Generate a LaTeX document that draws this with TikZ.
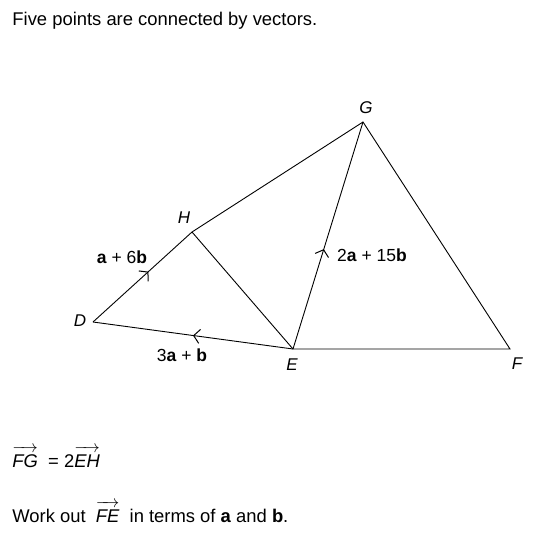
\documentclass[tikz,border=0pt]{standalone}
\usepackage{fontspec}
\setmainfont{Liberation Sans}
\usetikzlibrary{decorations.markings,arrows.meta}

\newcommand{\vecpair}[1]{$\overrightarrow{\raisebox{0pt}[0.86em]{\itshape #1}}$}

\tikzset{
  midarrow/.style={postaction={decorate},
    decoration={markings, mark=at position #1 with {\arrow{Straight Barb[length=6pt,width=14pt,line width=1pt]}}}},
  pointlabel/.style={font=\itshape\fontsize{17}{20}\selectfont, inner sep=0pt},
  veclabel/.style={font=\fontsize{17.5}{20}\selectfont, inner sep=0pt},
  bodytext/.style={font=\fontsize{18.4}{21}\selectfont, inner sep=0pt, anchor=west},
}

\begin{document}
\begin{tikzpicture}[x=1pt, y=-1pt, line width=0.9pt]
		
		\useasboundingbox (0,0) rectangle (539,548);
		
		% Texte
		\node[bodytext] (intro) at (12,21) {Five points are connected by vectors.};
		\node[bodytext] (given) at (12,457) {\vecpair{FG}\ \ = 2\vecpair{EH}};
		\node[bodytext] (task) at (12,512) {Work out\ \ \vecpair{FE}\ \ in terms of \textbf{a} and \textbf{b}.};
		
		% Punkte
		\coordinate (D) at (93,322);
		\coordinate (H) at (192,232);
		\coordinate (E) at (293,349);
		\coordinate (G) at (363,122);
		\coordinate (F) at (510,349);
		
		\node[pointlabel] (Dl) at (80,321) {D};
		\node[pointlabel] (Hl) at (184,218) {H};
		\node[pointlabel] (El) at (292,365) {E};
		\node[pointlabel] (Gl) at (366,108) {G};
		\node[pointlabel] (Fl) at (517,364) {F};
		
		% Strecken
		\draw[midarrow=0.56] (D) -- (H);
		\draw[midarrow=0.5] (E) -- (D);
		\draw[midarrow=0.44] (E) -- (G);
		\draw (H) -- (G) -- (F) -- (E) -- (H);
		
		% Vektoren
		\node[veclabel] (dh) at (122,257) {\textbf{a} + 6\textbf{b}};
		\node[veclabel] (ed) at (182,355) {3\textbf{a} + \textbf{b}};
		\node[veclabel] (eg) at (372,255) {2\textbf{a} + 15\textbf{b}};
		
	\end{tikzpicture}
\end{document}
